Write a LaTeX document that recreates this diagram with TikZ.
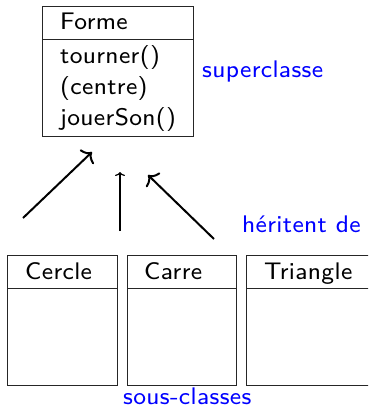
\documentclass[tikz,border=0pt]{standalone}
\usepackage{fontspec}
\newfontfamily\umlfont[LetterSpace=1.5]{lmsans8-regular.otf}
\usetikzlibrary{arrows.meta}
\begin{document}
\begin{tikzpicture}[x=1pt,y=-1pt,
  box/.style={draw=black!85,line width=1pt},
  lbl/.style={anchor=base west,inner sep=0pt,font=\umlfont\fontsize{24}{28}\selectfont},
  note/.style={lbl,text=blue},
  bigarr/.style={line width=2pt,-{Computer Modern Rightarrow[length=8pt,width=20pt]}},
  smallarr/.style={line width=1.2pt,-{Computer Modern Rightarrow[length=4pt,width=10pt]}}]
\useasboundingbox (0,0) rectangle (368,408);
\clip (0,0) rectangle (368,408);
% superclass
\draw[box] (42,6) rectangle (193,136);
\draw[box] (42,39) -- (193,39);
\node[lbl] (forme) at (60,29.5) {Forme};
\node[lbl] (m1) at (60,63) {tourner()};
\node[lbl] (m2) at (60,94) {(centre)};
\node[lbl] (m3) at (60,125) {jouerSon()};
\node[note] (sup) at (202,77) {superclasse};
% subclasses
\draw[box] (7,255) rectangle (117,385);
\draw[box] (7,288) -- (117,288);
\draw[box] (127,255) rectangle (236,385);
\draw[box] (127,288) -- (236,288);
\draw[box] (246,255) rectangle (372,385);
\draw[box] (246,288) -- (372,288);
\node[lbl] (cercle) at (25,279) {Cercle};
\node[lbl] (carre) at (144,279) {Carre};
\node[lbl] (tri) at (264,279) {Triangle};
\node[note] (her) at (242,232) {héritent de};
\node[note] (sous) at (123,404) {sous-classes};
% arrows
\coordinate (a1s) at (23,218);
\coordinate (a1e) at (92,152);
\coordinate (a2s) at (120,231);
\coordinate (a2e) at (120,172);
\coordinate (a3s) at (214,239);
\coordinate (a3e) at (148,175);
\draw[bigarr] (a1s) -- (a1e);
\draw[smallarr] (a2s) -- (a2e);
\draw[bigarr] (a3s) -- (a3e);
\end{tikzpicture}
\end{document}
